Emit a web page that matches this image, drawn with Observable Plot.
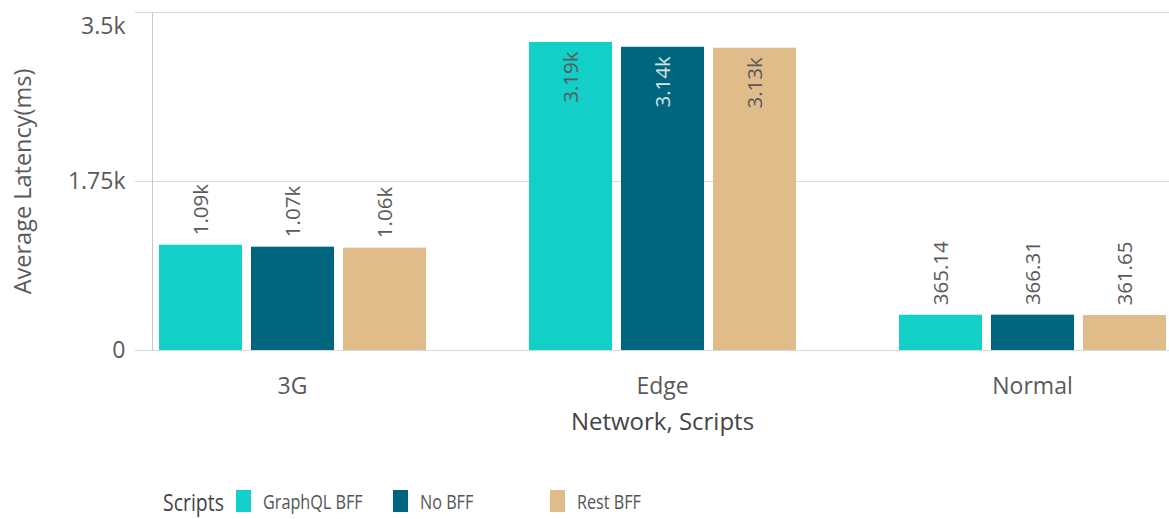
<!DOCTYPE html>
<html>
<head>
<meta charset="utf-8">
<script src="https://cdn.jsdelivr.net/npm/d3@7"></script>
<script src="https://cdn.jsdelivr.net/npm/@observablehq/plot@0.6"></script>
<style>
  html, body { margin: 0; padding: 0; background: #fff; }
  body { width: 1169px; height: 519px; overflow: hidden; font-family: "Open Sans", sans-serif; }
  #chart svg { display: block; }
  .legend { position: relative; height: 64px; display: flex; align-items: center; padding: 28px 0 0 163px; box-sizing: border-box; color: #555; }
  .legend .title { width: 73px; font-size: 24px; color: #444; display: inline-block; transform: scaleX(0.81); transform-origin: left center; white-space: nowrap; }
  .legend .item { width: 157px; display: flex; align-items: center; font-size: 20px; white-space: nowrap; }
  .legend .item .name { display: inline-block; transform: scaleX(0.81); transform-origin: left center; }
  .legend .swatch { width: 15px; height: 22px; margin-right: 12px; flex: none; }
</style>
</head>
<body>
<div id="chart"></div>
<script>
// Average latency (ms) per network profile and script variant
const networks = ["3G", "Edge", "Normal"];
const scripts = ["GraphQL BFF", "No BFF", "Rest BFF"];
const graphqlBff = [1090, 3190, 365.14];
const noBff = [1070, 3140, 366.31];
const restBff = [1060, 3130, 361.65];
const scriptColors = ["#12cfc8", "#00657f", "#dfbc8a"];
const yTicks = [0, 1750, 3500];
const yMax = 3500;

const seriesValues = [graphqlBff, noBff, restBff];
const rows = networks.flatMap((network, i) =>
  scripts.map((script, j) => ({network, script, value: seriesValues[j][i]}))
);

const valueFormat = v => v >= 1000 ? d3.format(".3s")(v) : d3.format(".2f")(v);
const tickFormat = d3.format("~s");
// tall bars carry their label inside the top of the bar
const isInside = d => d.value >= yMax * 0.8;
const textColor = "#5a5a5a";
const labelBase = {fx: "network", x: "script", y: "value", text: d => valueFormat(d.value), rotate: -90, fontSize: 20.5};
const tickBase = {y: d => d, text: d => tickFormat(d), frameAnchor: "left", textAnchor: "end", dx: -27, fill: textColor, fontSize: 23, facetAnchor: "left"};

const chart = Plot.plot({
  width: 1169,
  height: 455,
  marginTop: 12,
  marginRight: 0,
  marginBottom: 105,
  marginLeft: 151,
  style: {fontFamily: "'Open Sans', sans-serif", fontSize: "20px", color: textColor, background: "#fff", overflow: "visible"},
  fx: {domain: networks, range: [151, 1172], paddingInner: 0.2443, paddingOuter: 0, axis: null, label: null},
  x: {domain: scripts, paddingInner: 0.1, paddingOuter: 0.064, axis: null},
  y: {domain: [0, yMax], axis: null},
  color: {domain: scripts, range: scriptColors},
  marks: [
    // gridlines bridge the gaps between the network groups
    Plot.ruleY(yTicks, {y: d => d, stroke: "#d9d9d9", insetLeft: -17, insetRight: -95}),
    Plot.frame({anchor: "left", stroke: "#c8c8c8", facetAnchor: "left"}),
    Plot.text(yTicks.filter(t => t < yMax), tickBase),
    // the top tick label hangs below its gridline
    Plot.text(yTicks.filter(t => t === yMax), {...tickBase, lineAnchor: "top", dy: 5}),
    Plot.text(["Average Latency(ms)"], {text: d => d, frameAnchor: "left", textAnchor: "middle", rotate: -90, dx: -129, fill: textColor, fontSize: 23.5, facetAnchor: "left"}),
    Plot.barY(rows, {fx: "network", x: "script", y: "value", fill: "script"}),
    Plot.text(networks, {fx: d => d, text: d => d, frameAnchor: "bottom", dy: 43, fill: textColor, fontSize: 23}),
    Plot.text(["Network, Scripts"], {fx: () => networks[1], text: d => d, frameAnchor: "bottom", dy: 79, fill: "#444", fontSize: 24}),
    Plot.text(rows, {...labelBase, filter: d => !isInside(d), textAnchor: "start", dy: -10, fill: textColor}),
    Plot.text(rows, {...labelBase, filter: d => isInside(d) && d.script !== "No BFF", textAnchor: "end", dy: 9, fill: textColor}),
    Plot.text(rows, {...labelBase, filter: d => isInside(d) && d.script === "No BFF", textAnchor: "end", dy: 9, fill: "#d6e4e8"})
  ]
});
document.getElementById("chart").appendChild(chart);

// Legend for the script series
const legend = d3.select("body").append("div").attr("class", "legend");
legend.append("span").attr("class", "title").text("Scripts");
const items = legend.selectAll(".item").data(scripts).join("div").attr("class", "item");
items.append("span").attr("class", "swatch").style("background", (d, i) => scriptColors[i]);
items.append("span").attr("class", "name").text(d => d);
</script>
</body>
</html>
